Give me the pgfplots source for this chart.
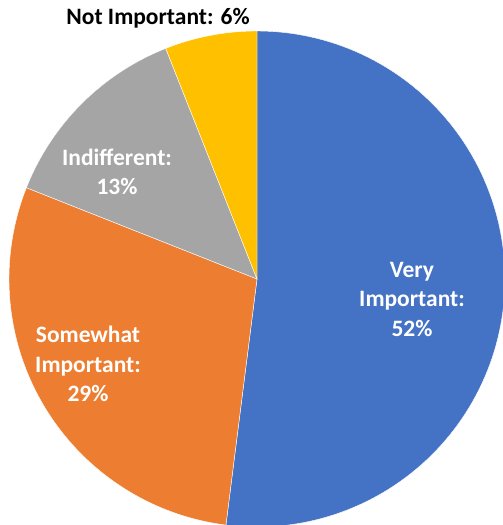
\documentclass[border=0pt]{standalone}
\usepackage{pgfplots}
\pgfplotsset{compat=1.18}
\usepackage{pgfplotstable}
\usepackage{fontspec}
\setmainfont{Carlito}
\definecolor{cVery}{HTML}{4472C4}
\definecolor{cSome}{HTML}{ED7D31}
\definecolor{cIndi}{HTML}{A5A5A5}
\definecolor{cNot}{HTML}{FFC000}
\pgfplotstableread{
label share
Very 52
Somewhat 29
Indifferent 13
Not 6
}\pietable
\pgfplotstablegetelem{0}{share}\of\pietable \let\sA\pgfplotsretval
\pgfplotstablegetelem{1}{share}\of\pietable \let\sB\pgfplotsretval
\pgfplotstablegetelem{2}{share}\of\pietable \let\sC\pgfplotsretval
\pgfplotstablegetelem{3}{share}\of\pietable \let\sD\pgfplotsretval
\pgfmathsetmacro{\aA}{90}
\pgfmathsetmacro{\aB}{90-3.6*\sA}
\pgfmathsetmacro{\aC}{90-3.6*(\sA+\sB)}
\pgfmathsetmacro{\aD}{90-3.6*(\sA+\sB+\sC)}
\pgfmathsetmacro{\aE}{90-3.6*(\sA+\sB+\sC+\sD)}
\def\R{248}
\begin{document}
\begin{tikzpicture}
\begin{axis}[
  scale only axis, width=503pt, height=525pt,
  xmin=-257, xmax=246, ymin=-246, ymax=279,
  hide axis,
  samples=120, variable=\t,
]
\addplot[fill=cVery, draw=white, line width=0.4pt, domain=\aB:\aA] ({\R*cos(\t)},{\R*sin(\t)}) -- (axis cs:0,0) -- cycle;
\addplot[fill=cSome, draw=white, line width=0.4pt, domain=\aC:\aB] ({\R*cos(\t)},{\R*sin(\t)}) -- (axis cs:0,0) -- cycle;
\addplot[fill=cIndi, draw=white, line width=0.4pt, domain=\aD:\aC] ({\R*cos(\t)},{\R*sin(\t)}) -- (axis cs:0,0) -- cycle;
\addplot[fill=cNot, draw=white, line width=0.4pt, domain=\aE:\aD] ({\R*cos(\t)},{\R*sin(\t)}) -- (axis cs:0,0) -- cycle;
\node[align=center, font=\fontsize{23.5}{29.5}\selectfont\bfseries, text=white] at (axis cs:155,-20) {Very\\Important:\\52\%};
\node[align=center, font=\fontsize{23.5}{29.5}\selectfont\bfseries, text=white] at (axis cs:-169,-85) {Somewhat\\Important:\\29\%};
\node[align=center, font=\fontsize{23.5}{29.5}\selectfont\bfseries, text=white] at (axis cs:-140,107) {Indifferent:\\13\%};
\node[align=center, font=\fontsize{23.5}{29.5}\selectfont\bfseries, text=black] at (axis cs:-99,261) {Not Important: 6\%};
\end{axis}
\pgfresetboundingbox
\path[use as bounding box] (current axis.south west) rectangle (current axis.north east);
\end{tikzpicture}
\end{document}
